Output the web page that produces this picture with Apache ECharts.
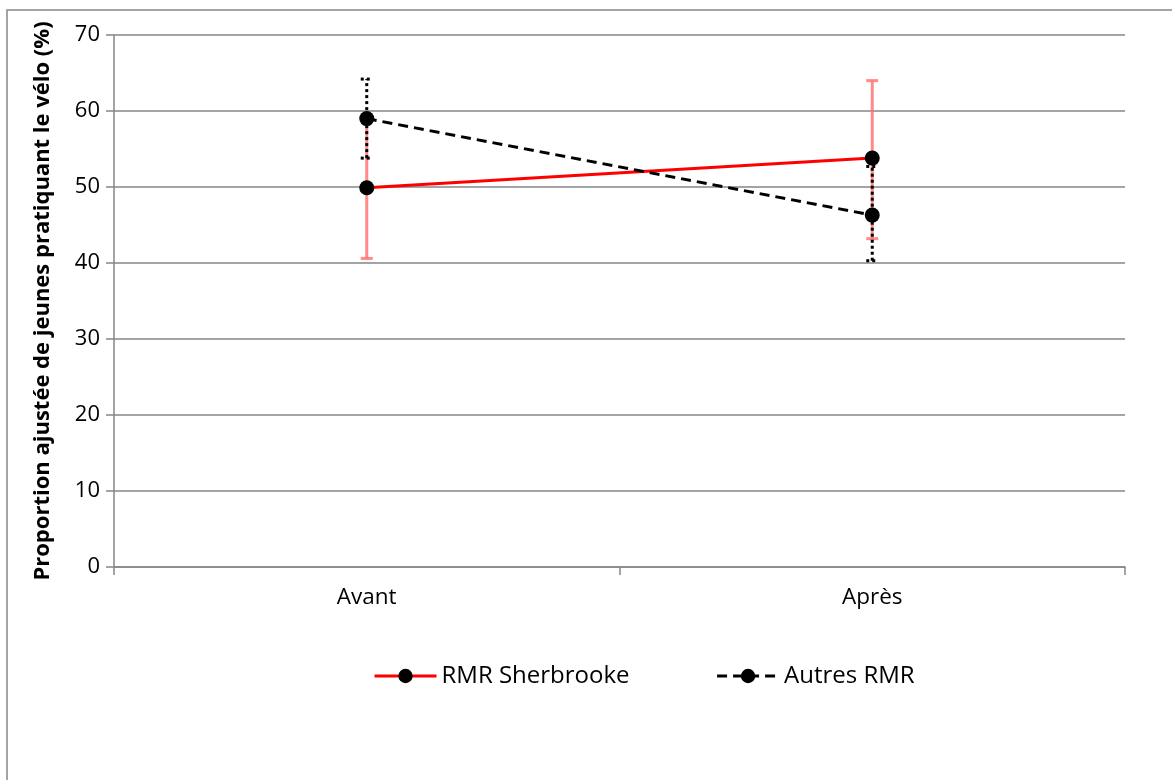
<!DOCTYPE html>
<html>
<head>
<meta charset="utf-8">
<script src="https://cdn.jsdelivr.net/npm/echarts@6/dist/echarts.min.js"></script>
<style>html,body{margin:0;padding:0;background:#fff}#c{width:1172px;height:780px}</style>
</head>
<body>
<div id="c"></div>
<script>
const categories = ['Avant', 'Après'];
const sherbrooke = [49.9, 53.8];
const sherbrookeLow = [40.6, 43.2];
const sherbrookeHigh = [59.2, 64.0];
const autres = [59.0, 46.3];
const autresLow = [53.8, 40.3];
const autresHigh = [64.2, 52.7];
const yTicks = [0, 10, 20, 30, 40, 50, 60, 70];

const FONT = '"Open Sans", Lato, sans-serif';
const chart = echarts.init(document.getElementById('c'));

function errData(low, high) {
  return categories.map((c, i) => [i, low[i], high[i]]);
}
function errRender(color, dash) {
  return function (params, api) {
    const x = api.value(0);
    const lo = api.coord([x, api.value(1)]);
    const hi = api.coord([x, api.value(2)]);
    const cap = 6;
    const style = { stroke: color, lineWidth: 3, lineDash: dash, fill: null };
    return {
      type: 'group',
      children: [
        { type: 'line', shape: { x1: lo[0], y1: lo[1], x2: hi[0], y2: hi[1] }, style: style },
        { type: 'line', shape: { x1: lo[0] - cap, y1: lo[1], x2: lo[0] + cap, y2: lo[1] }, style: style },
        { type: 'line', shape: { x1: hi[0] - cap, y1: hi[1], x2: hi[0] + cap, y2: hi[1] }, style: style }
      ]
    };
  };
}

chart.setOption({
  animation: false,
  backgroundColor: '#fff',
  textStyle: { fontFamily: FONT },
  graphic: [
    { type: 'polyline', shape: { points: [[7, 780], [7, 10], [1172, 10]] }, style: { stroke: '#868686', lineWidth: 1.5, fill: null } }
  ],
  grid: { left: 114, right: 47, top: 35, bottom: 213 },
  legend: {
    data: ['RMR Sherbrooke', 'Autres RMR'],
    top: 659,
    left: 368,
    itemWidth: 62,
    itemHeight: 18,
    itemGap: 86,
    lineStyle: { width: 3 },
    textStyle: { fontFamily: FONT, fontSize: 24, color: '#000' }
  },
  xAxis: {
    type: 'category',
    data: categories,
    boundaryGap: true,
    axisLine: { lineStyle: { color: '#868686', width: 1.5 } },
    axisTick: { show: true, length: 8, lineStyle: { color: '#868686', width: 1.5 } },
    axisLabel: { fontSize: 22.5, color: '#000', margin: 19, fontFamily: FONT },
    splitLine: { show: false }
  },
  yAxis: {
    type: 'value',
    min: 0, max: 70, interval: 10,
    name: 'Proportion ajustée de jeunes pratiquant le vélo (%)',
    nameLocation: 'middle',
    nameGap: 60,
    nameTextStyle: { fontSize: 22, fontWeight: 'bold', color: '#000', fontFamily: FONT },
    axisLine: { show: true, lineStyle: { color: '#868686', width: 1.5 } },
    axisTick: { show: true, length: 8, lineStyle: { color: '#868686', width: 1.5 } },
    axisLabel: { fontSize: 22, color: '#000', margin: 14, fontFamily: FONT,
      formatter: v => yTicks.includes(v) ? String(v) : '' },
    splitLine: { show: true, lineStyle: { color: '#868686', width: 1.5 } }
  },
  series: [
    {
      name: 'errSherbrooke', type: 'custom', data: errData(sherbrookeLow, sherbrookeHigh),
      renderItem: errRender('rgba(255,110,110,0.8)', null), z: 2, silent: true
    },
    {
      name: 'errAutres', type: 'custom', data: errData(autresLow, autresHigh),
      renderItem: errRender('#000', [3, 3]), z: 3, silent: true
    },
    {
      name: 'RMR Sherbrooke', type: 'line', data: sherbrooke,
      symbol: 'circle', symbolSize: 15,
      itemStyle: { color: '#000' },
      lineStyle: { color: '#ff0000', width: 3 },
      z: 4
    },
    {
      name: 'Autres RMR', type: 'line', data: autres,
      symbol: 'circle', symbolSize: 15,
      itemStyle: { color: '#000' },
      lineStyle: { color: '#000', width: 3, type: [10, 6] },
      z: 4
    }
  ]
});
</script>
</body>
</html>
